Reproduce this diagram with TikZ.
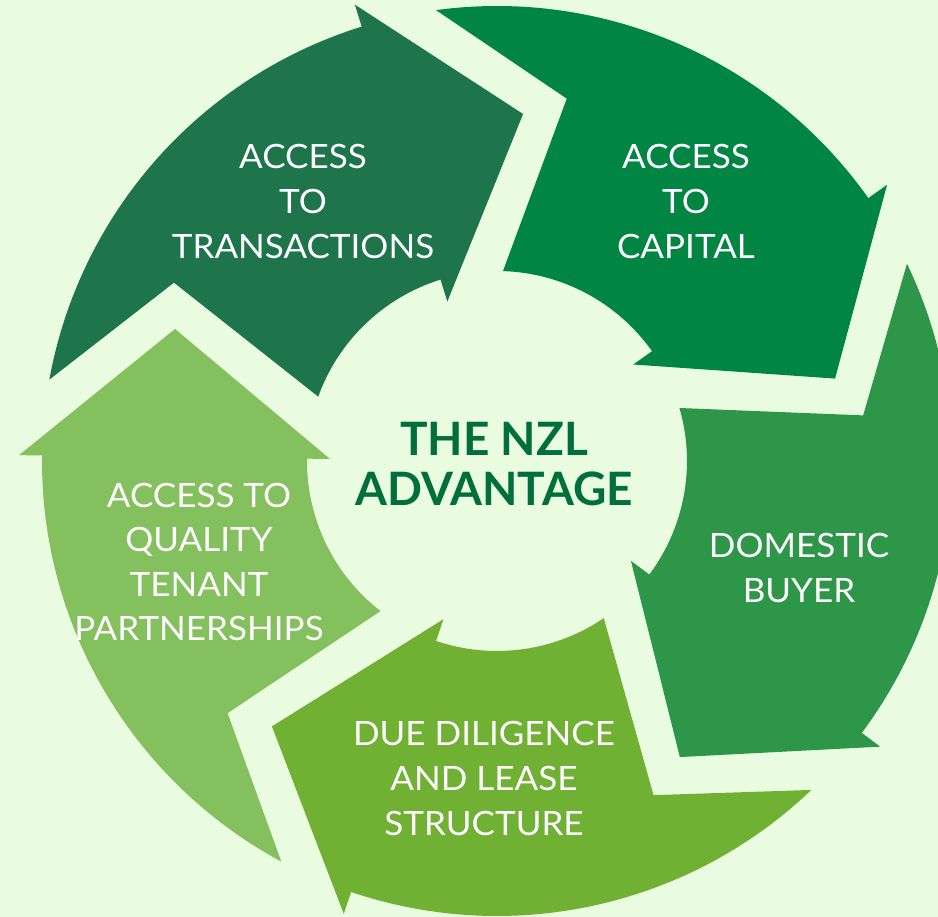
\documentclass[tikz,border=0pt]{standalone}
\usepackage{fontspec}
\setmainfont{Lato}
\newfontfamily\labelfont[FakeStretch=1.045]{Lato}
\begin{document}
\begin{tikzpicture}[x=1pt,y=1pt,
  lbl/.style={text=white,align=center,inner sep=0pt,anchor=north,
    font=\labelfont\fontsize{33.5}{45}\selectfont},
  ttl/.style={text=titlegreen,align=center,inner sep=0pt,anchor=north,
    font=\bfseries\fontsize{46}{50}\selectfont}]
\definecolor{bg}{HTML}{EAFCE0}
\definecolor{segA}{HTML}{1E744B}
\definecolor{segB}{HTML}{008542}
\definecolor{segC}{HTML}{2E9648}
\definecolor{segD}{HTML}{70B033}
\definecolor{segE}{HTML}{84C05D}
\definecolor{titlegreen}{HTML}{006F3C}
% canvas
\fill[bg] (-497pt,-456pt) rectangle (441pt,461pt);
\useasboundingbox (-497pt,-456pt) rectangle (441pt,461pt);
% one curved arrow segment; #1 = angle of the arrow-head base, #2 = colour
\newcommand\cyclearrow[2]{%
  \fill[#2] ({#1+62.4}:455pt) arc[start angle={#1+62.4}, end angle={#1}, radius=455pt]
    -- ({#1}:478pt) -- ({#1-21.6}:348pt) -- ({#1}:167pt) -- ({#1}:190pt)
    arc[start angle={#1}, end angle={#1+52.9}, radius=190pt]
    -- ({#1+43.8}:369pt) -- cycle;}
\cyclearrow{107.3}{segA}
\cyclearrow{35.3}{segB}
\cyclearrow{-36.7}{segC}
\cyclearrow{-108.7}{segD}
\cyclearrow{179.3}{segE}
% labels
\node[lbl] (transactions) at (-194pt,317pt) {ACCESS\\TO\\TRANSACTIONS};
\node[lbl] (capital) at (189pt,317pt) {ACCESS\\TO\\CAPITAL};
\node[lbl] (buyer) at (302pt,-72pt) {DOMESTIC\\BUYER};
\node[lbl] (diligence) at (-13pt,-260pt) {DUE DILIGENCE\\AND LEASE\\STRUCTURE};
\node[lbl,font=\labelfont\fontsize{33.5}{44.3}\selectfont] (tenant) at (-298pt,-22pt) {ACCESS TO\\QUALITY\\TENANT\\PARTNERSHIPS};
\node[ttl] (title) at (-3pt,39pt) {THE NZL\\ADVANTAGE};
\end{tikzpicture}
\end{document}
